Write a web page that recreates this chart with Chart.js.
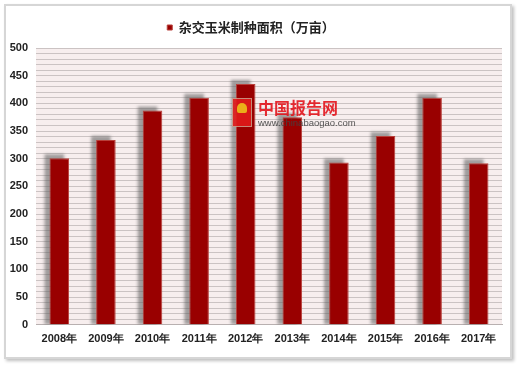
<!DOCTYPE html>
<html>
<head>
<meta charset="utf-8">
<script src="https://cdn.jsdelivr.net/npm/chart.js@4"></script>
<style>
  body { margin: 0; background: #fff; }
  #wrap { position: relative; width: 520px; height: 367px; }
  #frame {
    position: absolute; left: 4px; top: 4px; width: 504px; height: 351px;
    border: 2px solid #d6d6d6; background: #fff;
    box-shadow: 2px 2px 3px rgba(0,0,0,0.25);
  }
  canvas { position: absolute; left: 0; top: 0; }
  #mark { position: absolute; left: 232px; top: 97px; opacity: 0.9; }
  #logo { position: absolute; left: 0; top: 1px; width: 18px; height: 27px; background: #e01a1a; border: 1px solid #c98; }
  #logo span { position: absolute; left: 4px; top: 4px; width: 10px; height: 10px; background: #f4c11c; border-radius: 50% 50% 20% 20%; }
  #mark .cn { position: absolute; left: 26px; top: 1px; font: bold 16px "Noto Sans CJK SC"; color: #e3141c; white-space: nowrap; line-height: 18px; }
  #mark .url { position: absolute; left: 26px; top: 20px; font: 9.5px "Liberation Sans"; color: #444; white-space: nowrap; }
</style>
</head>
<body>
<div id="wrap">
  <div id="frame"></div>
  <canvas id="c" width="520" height="367"></canvas>
  <div id="mark"><div id="logo"><span></span></div><div class="cn">中国报告网</div><div class="url">www.chinabaogao.com</div></div>
</div>
<script>
const years = ['2008年', '2009年', '2010年', '2011年', '2012年', '2013年', '2014年', '2015年', '2016年', '2017年'];
const area = [301, 334, 387, 410, 435, 375, 293, 341, 410, 292];
const seriesName = '杂交玉米制种面积（万亩）';

// plot background
const plotBg = {
    id: 'plotBg',
    beforeDraw(chart) {
        const a = chart.chartArea;
        const ctx = chart.ctx;
        ctx.save();
        ctx.fillStyle = '#f7eeee';
        ctx.fillRect(a.left, a.top, a.right - a.left, a.bottom - a.top);
        ctx.restore();
    }
};

// extra space under the legend
const legendGap = {
    id: 'legendGap',
    afterInit(chart) {
        const legend = chart.legend;
        const fit = legend.fit;
        legend.fit = function() {
            fit.call(this);
            this.height += 4;
        };
    }
};

// grey shadow up and left of each bar
const barShadow = {
    id: 'barShadow',
    beforeDatasetsDraw(chart) {
        const ctx = chart.ctx;
        const a = chart.chartArea;
        ctx.save();
        ctx.beginPath();
        ctx.rect(a.left, a.top, a.right - a.left, a.bottom - a.top);
        ctx.clip();
        ctx.fillStyle = 'rgba(90,90,90,0.55)';
        ctx.filter = 'blur(1.5px)';
        chart.getDatasetMeta(0).data.forEach(bar => {
            const w = bar.width;
            ctx.fillRect(bar.x - w / 2 - 5, bar.y - 4, w, bar.base - bar.y + 4);
        });
        ctx.restore();
    }
};

new Chart(document.getElementById('c'), {
    type: 'bar',
    data: {
        labels: years,
        datasets: [{
            label: seriesName,
            data: area,
            backgroundColor: '#990000',
            borderColor: '#b8403a',
            borderWidth: 1,
            categoryPercentage: 1,
            barPercentage: 0.42
        }]
    },
    plugins: [plotBg, legendGap, barShadow],
    options: {
        responsive: false,
        animation: false,
        layout: { padding: { left: 0, right: 18, top: 9, bottom: 13 } },
        plugins: {
            legend: {
                labels: {
                    boxWidth: 5, boxHeight: 5,
                    color: '#222',
                    padding: 12,
                    font: { family: 'Noto Sans CJK SC', size: 13, weight: 'bold' }
                }
            },
            tooltip: { enabled: false }
        },
        scales: {
            x: {
                grid: { display: false, drawTicks: false },
                border: { display: true, color: '#b8b0b0' },
                ticks: {
                    color: '#222',
                    padding: 8,
                    font: { family: 'Liberation Sans', size: 11, weight: 'bold' }
                }
            },
            y: {
                min: 0, max: 500,
                afterFit(axis) { axis.width = 36; },
                grid: { color: '#cbc3c3', drawTicks: false },
                border: { display: false },
                ticks: {
                    stepSize: 10,
                    autoSkip: false,
                    maxTicksLimit: 100,
                    padding: 8,
                    color: '#222',
                    font: { family: 'Liberation Sans', size: 11, weight: 'bold' },
                    callback: function(value) {
                        return value % 50 === 0 ? value : '';
                    }
                }
            }
        }
    }
});
</script>
</body>
</html>
